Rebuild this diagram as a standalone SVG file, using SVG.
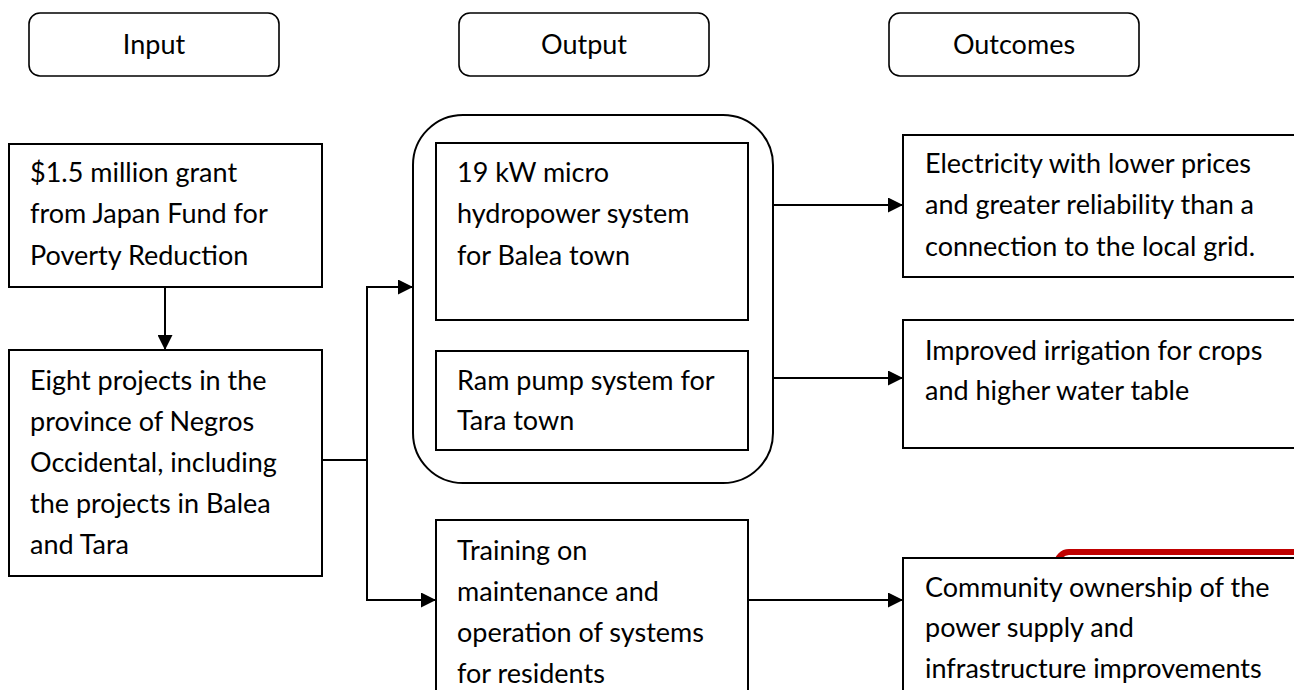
<svg xmlns="http://www.w3.org/2000/svg" width="1294" height="690" viewBox="0 0 1294 690">
<style>
.box{fill:#fff;stroke:#000;stroke-width:2}
.hdr{fill:#fff;stroke:#000;stroke-width:1.6}
.t{font-family:Lato,"Liberation Sans",sans-serif;font-size:27px;fill:#000}
.c{text-anchor:middle}
.ln{fill:none;stroke:#000;stroke-width:2}
</style>
<defs>
<marker id="ah" markerWidth="15" markerHeight="15" refX="15" refY="7.5" orient="auto" markerUnits="userSpaceOnUse">
<path d="M0,0 L15,7.5 L0,15 Z" fill="#000"/>
</marker>
</defs>
<rect x="0" y="0" width="1294" height="690" fill="#fff"/>
<g id="hdr-input"><rect class="hdr" x="29" y="13" width="250" height="63" rx="11"/><text class="t c" x="154" y="54">Input</text></g>
<g id="hdr-output"><rect class="hdr" x="459" y="13" width="250" height="63" rx="11"/><text class="t c" x="584" y="54">Output</text></g>
<g id="hdr-outcomes"><rect class="hdr" x="889" y="13" width="250" height="63" rx="11"/><text class="t c" x="1014" y="54">Outcomes</text></g>

<g id="red-shape"><rect x="1057" y="552" width="300" height="160" rx="12" fill="none" stroke="#C00000" stroke-width="6"/></g>

<g id="grant"><rect class="box" x="9" y="144" width="313" height="143"/>
<text class="t" x="30" y="182">$1.5 million grant</text>
<text class="t" x="30" y="223">from Japan Fund for</text>
<text class="t" x="30" y="265">Poverty Reduction</text></g>

<g id="projects"><rect class="box" x="9" y="350" width="313" height="226"/>
<text class="t" x="30" y="390">Eight projects in the</text>
<text class="t" x="30" y="431">province of Negros</text>
<text class="t" x="30" y="472">Occidental, including</text>
<text class="t" x="30" y="513">the projects in Balea</text>
<text class="t" x="30" y="554">and Tara</text></g>

<g id="output-group"><rect class="box" x="413" y="115" width="360" height="368" rx="50"/></g>
<g id="hydro"><rect class="box" x="436" y="143" width="312" height="177"/>
<text class="t" x="457" y="182">19 kW micro</text>
<text class="t" x="457" y="223">hydropower system</text>
<text class="t" x="457" y="265">for Balea town</text></g>
<g id="rampump"><rect class="box" x="436" y="351" width="312" height="99"/>
<text class="t" x="457" y="390">Ram pump system for</text>
<text class="t" x="457" y="430">Tara town</text></g>
<g id="training"><rect class="box" x="436" y="520" width="312" height="190"/>
<text class="t" x="457" y="560">Training on</text>
<text class="t" x="457" y="601">maintenance and</text>
<text class="t" x="457" y="642">operation of systems</text>
<text class="t" x="457" y="683">for residents</text></g>

<g id="electricity"><rect class="box" x="903" y="135" width="400" height="142"/>
<text class="t" x="925" y="173">Electricity with lower prices</text>
<text class="t" x="925" y="214">and greater reliability than a</text>
<text class="t" x="925" y="256">connection to the local grid.</text></g>
<g id="irrigation"><rect class="box" x="903" y="320" width="400" height="128"/>
<text class="t" x="925" y="360">Improved irrigation for crops</text>
<text class="t" x="925" y="400">and higher water table</text></g>
<g id="community"><rect class="box" x="903" y="558" width="400" height="150"/>
<text class="t" x="925" y="597">Community ownership of the</text>
<text class="t" x="925" y="637">power supply and</text>
<text class="t" x="925" y="678">infrastructure improvements</text></g>

<g id="connectors">
<path class="ln" d="M165,287 V350" marker-end="url(#ah)"/>
<path class="ln" d="M322,460 H367"/>
<path class="ln" d="M367,287 V600"/>
<path class="ln" d="M366,287 H413" marker-end="url(#ah)"/>
<path class="ln" d="M366,600 H436" marker-end="url(#ah)"/>
<path class="ln" d="M773,205 H903" marker-end="url(#ah)"/>
<path class="ln" d="M773,378 H903" marker-end="url(#ah)"/>
<path class="ln" d="M748,600 H903" marker-end="url(#ah)"/>
</g>
</svg>
